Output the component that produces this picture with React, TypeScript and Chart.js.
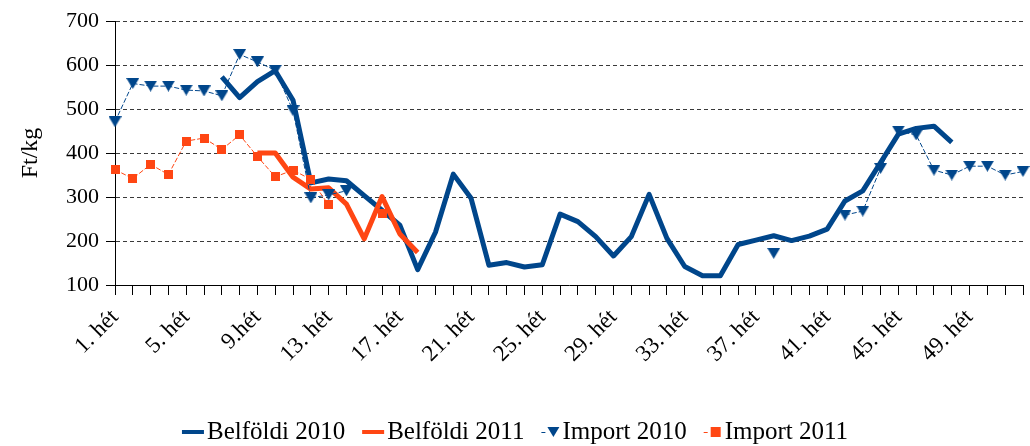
import React, { useEffect, useRef } from 'react';
import { Chart, registerables } from 'chart.js';

Chart.register(...registerables);

const weekLabels = [
  '1. hét', '2. hét', '3. hét', '4. hét', '5. hét', '6. hét', '7. hét', '8. hét', '9.hét', '10. hét',
  '11. hét', '12. hét', '13. hét', '14. hét', '15. hét', '16. hét', '17. hét', '18. hét', '19. hét', '20. hét',
  '21. hét', '22. hét', '23. hét', '24. hét', '25. hét', '26. hét', '27. hét', '28. hét', '29. hét', '30. hét',
  '31. hét', '32. hét', '33. hét', '34. hét', '35. hét', '36. hét', '37. hét', '38. hét', '39. hét', '40. hét',
  '41. hét', '42. hét', '43. hét', '44. hét', '45. hét', '46. hét', '47. hét', '48. hét', '49. hét', '50. hét',
  '51. hét', '52. hét',
];

const belfoldi2010 = [
  null, null, null, null, null, null, 573, 526, 562, 587,
  520, 332, 341, 337, 303, 270, 236, 135, 220, 352,
  297, 145, 151, 141, 146, 261, 244, 210, 166, 210,
  306, 206, 142, 121, 121, 192, 202, 212, 201, 211,
  227, 291, 314, 378, 443, 456, 461, 424, null, null,
  null, null,
];

const belfoldi2011 = [
  null, null, null, null, null, null, null, null, 400, 400,
  345, 318, 321, 284, 205, 301, 216, 174, null, null,
  null, null, null, null, null, null, null, null, null, null,
  null, null, null, null, null, null, null, null, null, null,
  null, null, null, null, null, null, null, null, null, null,
  null, null,
];

const import2010 = [
  471, 558, 552, 552, 543, 541, 530, 624, 607, 588,
  496, 298, 305, 314, null, null, null, null, null, null,
  null, null, null, null, null, null, null, null, null, null,
  null, null, null, null, null, null, null, 172, null, null,
  null, 259, 268, 365, 450, 441, 361, 350, 370, 370,
  350, 358,
];

const import2011 = [
  362, 342, 374, 351, 427, 434, 408, 441, 392, 346,
  361, 340, 282, null, null, 263, null, null, null, null,
  null, null, null, null, null, null, null, null, null, null,
  null, null, null, null, null, null, null, null, null, null,
  null, null, null, null, null, null, null, null, null, null,
  null, null,
];

const yTicks = [100, 200, 300, 400, 500, 600, 700];

const BLUE = '#00468B';
const ORANGE = '#FF4613';
const FONT = '"Liberation Serif", "Times New Roman", serif';

function makeTriangle(color: string) {
  const c = document.createElement('canvas');
  c.width = 13;
  c.height = 11;
  const g = c.getContext('2d')!;
  g.fillStyle = color;
  g.beginPath();
  g.moveTo(0, 0);
  g.lineTo(13, 0);
  g.lineTo(6.5, 11);
  g.closePath();
  g.fill();
  return c;
}

function makeSquare(color: string) {
  const c = document.createElement('canvas');
  c.width = 9;
  c.height = 9;
  const g = c.getContext('2d')!;
  g.fillStyle = color;
  g.fillRect(0, 0, 9, 9);
  return c;
}

const legendItems = [
  { label: 'Belföldi 2010', kind: 'line', color: BLUE },
  { label: 'Belföldi 2011', kind: 'line', color: ORANGE },
  { label: 'Import 2010', kind: 'tri', color: BLUE },
  { label: 'Import 2011', kind: 'sq', color: ORANGE },
];

const legendPlugin = {
  id: 'customLegend',
  afterDraw(chart: any) {
    const ctx = chart.ctx as CanvasRenderingContext2D;
    ctx.save();
    ctx.font = `25px ${FONT}`;
    ctx.textBaseline = 'alphabetic';
    ctx.fillStyle = '#000';
    const iconW = (k: string) => (k === 'line' ? 22 : 18);
    const gapIcon = 3;
    const gapItem = 17;
    let total = 0;
    legendItems.forEach((it, i) => {
      total += iconW(it.kind) + gapIcon + ctx.measureText(it.label).width;
      if (i < legendItems.length - 1) total += gapItem;
    });
    let x = (chart.width - total) / 2;
    const cy = 432;
    const base = 439;
    legendItems.forEach((it) => {
      if (it.kind === 'line') {
        ctx.strokeStyle = it.color;
        ctx.lineWidth = 4;
        ctx.beginPath();
        ctx.moveTo(x, cy);
        ctx.lineTo(x + 22, cy);
        ctx.stroke();
      } else {
        ctx.strokeStyle = it.color;
        ctx.lineWidth = 1;
        ctx.beginPath();
        ctx.moveTo(x, cy + 0.5);
        ctx.lineTo(x + 4, cy + 0.5);
        ctx.stroke();
        ctx.fillStyle = it.color;
        if (it.kind === 'tri') {
          ctx.beginPath();
          ctx.moveTo(x + 6, cy - 5);
          ctx.lineTo(x + 18, cy - 5);
          ctx.lineTo(x + 12, cy + 5);
          ctx.closePath();
          ctx.fill();
        } else {
          ctx.fillRect(x + 7, cy - 5, 10, 10);
        }
      }
      x += iconW(it.kind) + gapIcon;
      ctx.fillStyle = '#000';
      ctx.fillText(it.label, x, base);
      x += ctx.measureText(it.label).width + gapItem;
    });
    ctx.restore();
  },
};

export default function App() {
  const canvasRef = useRef<HTMLCanvasElement | null>(null);

  useEffect(() => {
    document.body.style.margin = '0';
    const canvas = canvasRef.current;
    if (!canvas) return;
    const tri = makeTriangle(BLUE);
    const sq = makeSquare(ORANGE);

    const chart = new Chart(canvas, {
      type: 'line',
      data: {
        labels: weekLabels,
        datasets: [
          {
            label: 'Belföldi 2010',
            data: belfoldi2010,
            borderColor: BLUE,
            backgroundColor: BLUE,
            borderWidth: 5,
            pointRadius: 0,
            pointHoverRadius: 0,
            tension: 0,
            spanGaps: false,
            borderJoinStyle: 'round',
            borderCapStyle: 'butt',
            order: 4,
          },
          {
            label: 'Belföldi 2011',
            data: belfoldi2011,
            borderColor: ORANGE,
            backgroundColor: ORANGE,
            borderWidth: 5,
            pointRadius: 0,
            pointHoverRadius: 0,
            tension: 0,
            spanGaps: false,
            borderJoinStyle: 'round',
            order: 3,
          },
          {
            label: 'Import 2010',
            data: import2010,
            borderColor: BLUE,
            backgroundColor: BLUE,
            borderWidth: 1,
            borderDash: [5, 2],
            pointStyle: tri as any,
            pointRadius: 6,
            tension: 0,
            spanGaps: false,
            order: 2,
          },
          {
            label: 'Import 2011',
            data: import2011,
            borderColor: ORANGE,
            backgroundColor: ORANGE,
            borderWidth: 1,
            borderDash: [5, 2],
            pointStyle: sq as any,
            pointRadius: 5,
            tension: 0,
            spanGaps: false,
            order: 1,
          },
        ],
      },
      options: {
        animation: false,
        responsive: true,
        maintainAspectRatio: false,
        layout: { padding: { top: 21, right: 6, bottom: 0, left: 0 } },
        plugins: {
          legend: { display: false },
          tooltip: { enabled: false },
        },
        scales: {
          x: {
            type: 'category',
            offset: false,
            grid: {
              display: true,
              drawOnChartArea: false,
              drawTicks: true,
              tickLength: 10,
              tickColor: '#000',
              tickWidth: 1,
            },
            border: { display: true, color: '#000', width: 1 },
            ticks: {
              autoSkip: false,
              minRotation: 45,
              maxRotation: 45,
              padding: 9,
              color: '#000',
              font: { family: FONT, size: 23 },
              callback: (_v: any, i: number) => (i % 4 === 0 ? weekLabels[i] : ''),
            },
            afterFit: (scale: any) => {
              scale.height = 446 - 285;
              scale.paddingRight = 0;
              scale.paddingLeft = 0;
            },
          },
          y: {
            min: 100,
            max: 700,
            afterBuildTicks: (scale: any) => {
              scale.ticks = yTicks.map((v) => ({ value: v }));
            },
            grid: {
              display: true,
              drawOnChartArea: true,
              drawTicks: true,
              tickLength: 9,
              color: '#3a3a3a',
              lineWidth: 1,
              tickColor: '#000',
              tickBorderDash: [],
            },
            border: { display: true, color: '#000', width: 1, dash: [4, 3] },
            ticks: {
              padding: 7,
              color: '#000',
              font: { family: FONT, size: 22 },
            },
            title: {
              display: true,
              text: 'Ft/kg',
              color: '#000',
              font: { family: FONT, size: 24 },
              padding: { top: 16, bottom: 0 },
            },
            afterFit: (scale: any) => {
              scale.width = 115;
            },
          },
        },
      },
      plugins: [legendPlugin],
    } as any);

    return () => {
      chart.destroy();
    };
  }, []);

  return (
    <div style={{ position: 'absolute', left: 0, top: 0, width: 1030, height: 446 }}>
      <canvas ref={canvasRef} />
    </div>
  );
}
